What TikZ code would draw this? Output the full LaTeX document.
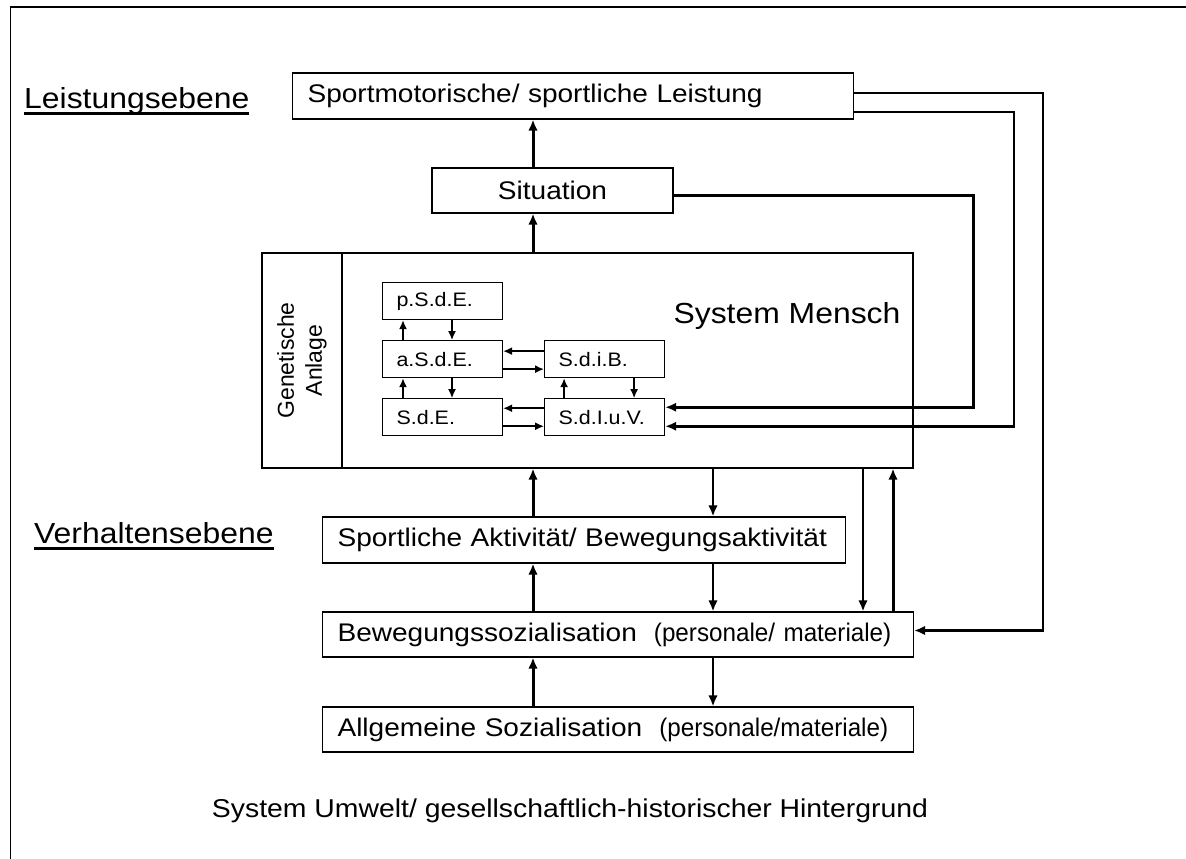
\documentclass[tikz,border=0pt]{standalone}
\usepackage{fontspec}
\setmainfont{Liberation Sans}[FakeStretch=1.1]
\newfontfamily\narrowfont{Liberation Sans}[FakeStretch=0.95]
\newfontfamily\plainfont{Liberation Sans}
\usetikzlibrary{arrows.meta}
\usetikzlibrary{positioning}
\tikzset{>={Latex[length=11pt,width=9.5pt]}, x=1pt, y=-1pt, font=\fontsize{25.5}{30}\selectfont}
\tikzstyle{block} = [draw, line width=1.1pt, rectangle, minimum height=46pt, inner xsep=15pt, inner ysep=0pt, align=left]
\tikzstyle{sub} = [draw, line width=1.1pt, rectangle, minimum height=37pt, text width=92pt, inner xsep=14pt, inner ysep=0pt, align=left, font=\fontsize{19.5}{22}\selectfont]
\tikzstyle{upflow} = [line width=3pt, ->]
\tikzstyle{downflow} = [line width=2.4pt, ->]
\tikzstyle{back} = [line width=2.6pt, ->]
\tikzstyle{wire} = [line width=1.7pt, -{Latex[length=9pt,width=8pt]}]
\tikzstyle{ebene} = [inner sep=0pt, anchor=base west, font=\fontsize{29}{34}\selectfont]
\newcommand{\ebenenlinie}[1]{\setbox0\hbox{#1}\rlap{\vrule height -4pt depth 7pt width \wd0}\box0}
\newcommand{\pers}[1]{{\narrowfont #1}}

\begin{document}
\begin{tikzpicture}
    \useasboundingbox (0,0) rectangle (1186,859);
    \draw [line width=1.6pt] (10.5,859) -- (10.5,7) -- (1186,7);

    \node [ebene] (leistungsebene) at (24,108) {\ebenenlinie{Leistungsebene}};
    \node [ebene] (verhaltensebene) at (34,543) {\ebenenlinie{Verhaltensebene}};

    \node [block, text width=531pt, anchor=west] (leistung) at (292,96) {Sportmotorische/ sportliche Leistung};
    \node [block, minimum width=241pt, minimum height=45pt] (situation) at (552.5,190.5) {Situation};
    \node [draw, line width=1.1pt, minimum width=651pt, minimum height=215pt] (mensch) at (587.5,360.5) {};
    \node [draw, line width=1.1pt, rotate=90, minimum width=215pt, minimum height=80pt, align=center,
           font=\plainfont\fontsize{23}{28}\selectfont] (anlage) at (302,360.5) {Genetische\\Anlage};
    \node [anchor=base, font=\fontsize{29}{34}\selectfont] (mlabel) at (787,323) {System Mensch};

    \node [sub, anchor=north west] (psde) at (382,282) {p.S.d.E.};
    \node [sub, below=20pt of psde] (asde) {a.S.d.E.};
    \node [sub, below=20pt of asde] (sde) {S.d.E.};
    \node [sub, right=41pt of asde] (sdib) {S.d.i.B.};
    \node [sub, below=20pt of sdib] (sdiuv) {S.d.I.u.V.};

    \node [block, text width=493pt, anchor=west] (aktivitaet) at (322,540) {Sportliche Aktivität/ Bewegungsaktivität};
    \node [block, text width=561pt, minimum height=45pt, anchor=west] (bewsoz) at (322,634.5) {Bewegungssozialisation\ \ \pers{(personale/ materiale)}};
    \node [block, text width=561pt, minimum height=45pt, anchor=west] (allgsoz) at (322,729.5) {Allgemeine Sozialisation\ \ \pers{(personale/materiale)}};

    \node [anchor=base, font=\fontsize{25.8}{30}\selectfont] (umwelt) at (570,817) {System Umwelt/ gesellschaftlich-historischer Hintergrund};

    \coordinate (ax) at (533,0);
    \coordinate (bx) at (713,0);
    \coordinate (cx) at (863,0);
    \coordinate (dx) at (893,0);

    % main column
    \draw [upflow] (situation.north -| ax) -- (leistung.south -| ax);
    \draw [upflow] (mensch.north -| ax) -- (situation.south -| ax);
    \draw [upflow] (aktivitaet.north -| ax) -- (mensch.south -| ax);
    \draw [upflow] (bewsoz.north -| ax) -- (aktivitaet.south -| ax);
    \draw [upflow] (allgsoz.north -| ax) -- (bewsoz.south -| ax);
    \draw [downflow] (mensch.south -| bx) -- (aktivitaet.north -| bx);
    \draw [downflow] (aktivitaet.south -| bx) -- (bewsoz.north -| bx);
    \draw [downflow] (bewsoz.south -| bx) -- (allgsoz.north -| bx);
    \draw [downflow] (mensch.south -| cx) -- (bewsoz.north -| cx);
    \draw [upflow] (bewsoz.north -| dx) -- (mensch.south -| dx);

    % inner system
    \draw [wire] ([xshift=21pt]asde.north west) -- ([xshift=21pt]psde.south west);
    \draw [wire] ([xshift=70pt]psde.south west) -- ([xshift=70pt]asde.north west);
    \draw [wire] ([xshift=21pt]sde.north west) -- ([xshift=21pt]asde.south west);
    \draw [wire] ([xshift=70pt]asde.south west) -- ([xshift=70pt]sde.north west);
    \draw [wire] ([xshift=20pt]sdiuv.north west) -- ([xshift=20pt]sdib.south west);
    \draw [wire] ([xshift=90pt]sdib.south west) -- ([xshift=90pt]sdiuv.north west);
    \draw [wire] ([yshift=8pt]sdib.west) -- ([yshift=8pt]asde.east);
    \draw [wire] ([yshift=-10pt]asde.east) -- ([yshift=-10pt]sdib.west);
    \draw [wire] ([yshift=9pt]sdiuv.west) -- ([yshift=9pt]sde.east);
    \draw [wire] ([yshift=-9pt]sde.east) -- ([yshift=-9pt]sdiuv.west);

    % feedback
    \draw [back] ([yshift=-5pt]situation.east) -- ++(300,0) |- ([yshift=10pt]sdiuv.east);
    \draw [back] ([yshift=-16pt]leistung.east) -- ++(160,0) |- ([yshift=-9pt]sdiuv.east);
    \draw [back] ([yshift=3pt]leistung.east) -- ++(189,0) |- ([yshift=4pt]bewsoz.east);
\end{tikzpicture}
\end{document}
